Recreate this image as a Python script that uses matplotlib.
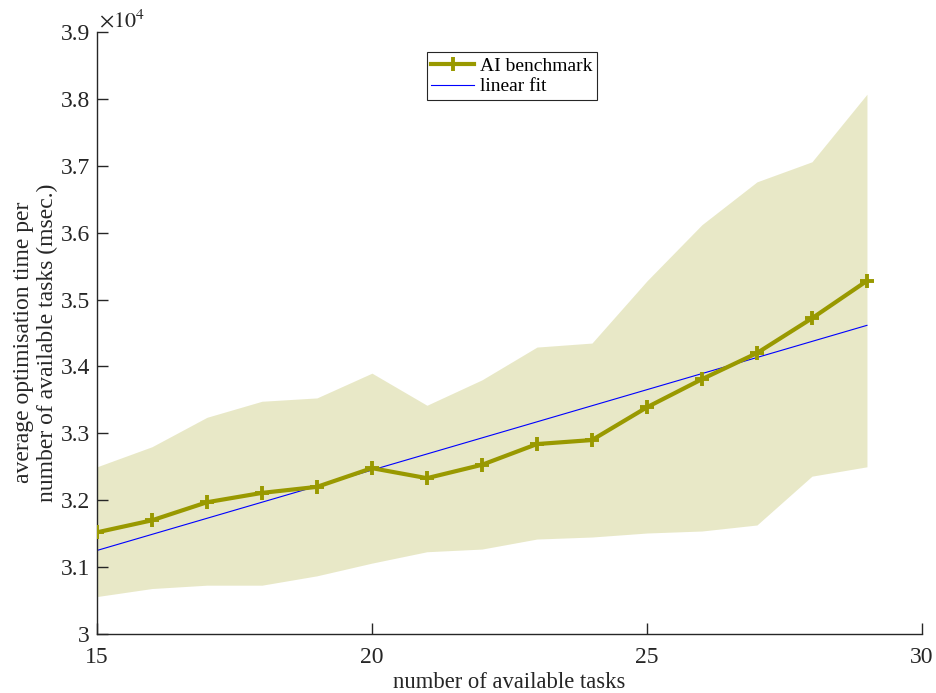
#!/usr/bin/env python

import numpy as np
from matplotlib import pyplot as plt
from matplotlib import ticker

# number of available tasks
tasks = [15, 16, 17, 18, 19, 20, 21, 22, 23, 24, 25, 26, 27, 28, 29]

# average optimisation time per available task (msec.)
mean_time = [31520, 31700, 31970, 32110, 32200, 32480, 32330, 32530,
             32840, 32900, 33390, 33810, 34200, 34720, 35280]
upper_time = [32500, 32800, 33240, 33480, 33530, 33900, 33420, 33800,
              34290, 34350, 35280, 36120, 36760, 37060, 38070]
lower_time = [30560, 30680, 30730, 30730, 30870, 31060, 31230, 31270,
              31420, 31450, 31510, 31540, 31630, 32360, 32500]

OLIVE = '#999900'
INK = '#262626'

plt.rcParams['font.family'] = ['Liberation Serif', 'DejaVu Serif']
plt.rcParams['mathtext.fontset'] = 'stix'

fig = plt.figure(figsize=(9.36, 6.93), dpi=100)
ax = fig.add_axes([0.1036, 0.0851, 0.8814, 0.8687])

x = np.array(tasks)
mean = np.array(mean_time)

ax.fill_between(x, lower_time, upper_time, color=OLIVE, alpha=0.22,
                linewidth=0, zorder=1)
ax.plot(x, mean, color=OLIVE, lw=3, marker='+', markersize=10, mew=2.8,
        label='AI benchmark', zorder=3)

# least squares line through the averages
slope, intercept = np.polyfit(x, mean, 1)
ax.plot(x, slope * x + intercept, color='blue', lw=0.8,
        label='linear fit', zorder=2)

ax.set_xlim(15, 30)
ax.set_ylim(30000, 39000)
ax.set_xticks([15, 20, 25, 30])
ax.set_yticks(np.arange(30000, 39001, 1000))
ax.yaxis.set_major_formatter(
    ticker.FuncFormatter(lambda v, pos: '%g' % round(v / 1e4, 2)))
ax.text(0.003, 1.0, r'$\times10^{4}$', transform=ax.transAxes,
        fontsize=16, color=INK, ha='left', va='bottom')

for side in ('top', 'right'):
    ax.spines[side].set_visible(False)
for side in ('left', 'bottom'):
    ax.spines[side].set_color(INK)
    ax.spines[side].set_linewidth(1.0)
ax.tick_params(direction='in', length=8, width=1.0, colors=INK,
               labelsize=17)
ax.tick_params(axis='x', pad=9)
ax.tick_params(axis='y', pad=5)

ax.set_xlabel('number of available tasks', fontsize=16.3, color=INK,
              labelpad=3)
ax.set_ylabel('average optimisation time per\nnumber of available tasks (msec.)',
              fontsize=17, color=INK, linespacing=1.2)
ax.yaxis.set_label_coords(-0.047, 0.484)

leg = ax.legend(loc='upper center', bbox_to_anchor=(0.503, 0.966),
                fontsize=14, fancybox=False, framealpha=1,
                edgecolor=INK, handlelength=2.2, handletextpad=0.3,
                borderpad=0.25, labelspacing=0.15, borderaxespad=0)
leg.get_frame().set_linewidth(0.8)

fig.savefig('out.png', dpi=100)
